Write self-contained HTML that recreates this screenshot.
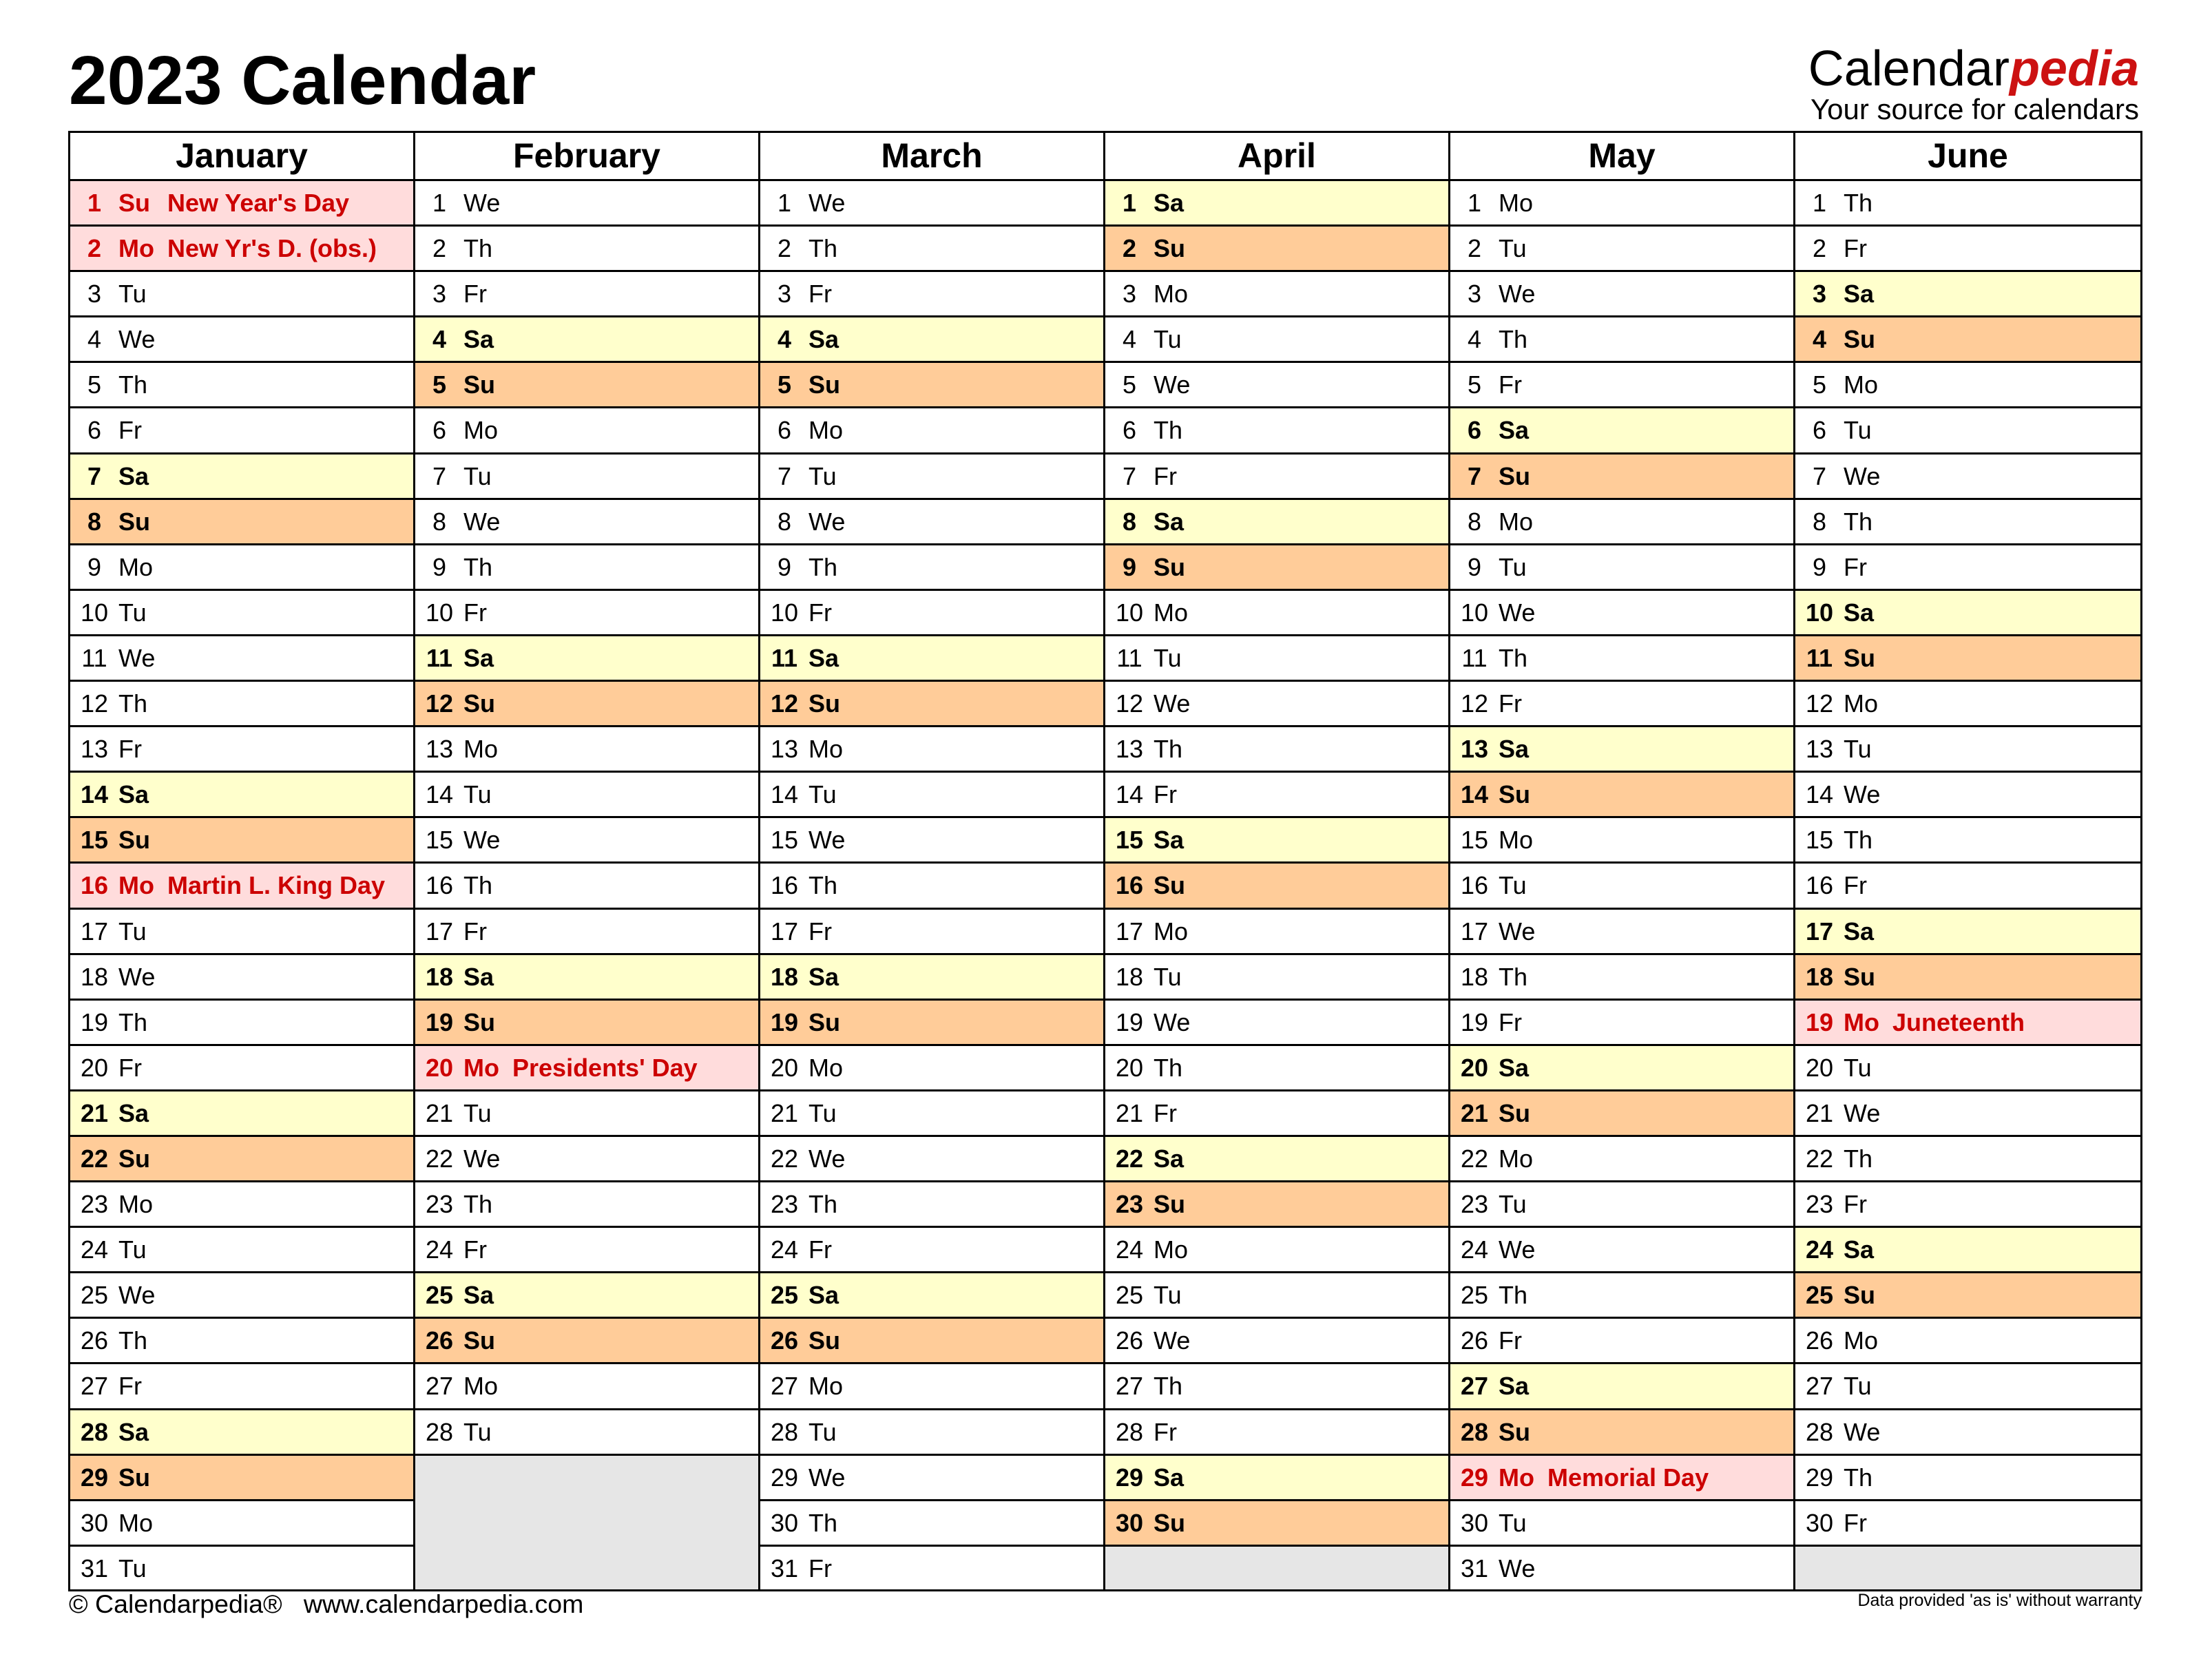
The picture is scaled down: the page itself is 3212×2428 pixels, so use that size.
<!DOCTYPE html>
<html><head><meta charset="utf-8"><style>
*{margin:0;padding:0}
body{width:3212px;height:2428px;background:#fff;position:relative;overflow:hidden;font-family:"Liberation Sans",Arial,sans-serif;color:#000}
.t{position:absolute;left:100px;top:67px;font-size:100px;font-weight:bold;line-height:1;white-space:nowrap}
.logo{position:absolute;right:106px;top:64px;font-size:72px;line-height:1;white-space:nowrap}
.logo b{color:#cc1111;font-style:italic}
.sub{position:absolute;right:106px;top:138px;font-size:42px;line-height:1;white-space:nowrap}
.tb{position:absolute;left:99px;top:190px;width:3012px;height:2121px;border:3px solid #000;box-sizing:border-box}
.col{position:absolute;top:0;width:501px;height:2115px;border-right:3px solid #000;box-sizing:border-box;overflow:hidden}
.col.last{border-right:none}
.hd{height:67px;border-bottom:3px solid #000;font-size:50px;font-weight:bold;text-align:center;line-height:67px}
.col div.r{position:relative;height:66.1px;border-bottom:3px solid #000;box-sizing:border-box;font-size:36px;line-height:64px;white-space:nowrap}
.r span{position:absolute;top:0}
.r .n{left:0;width:70px;text-align:center}
.r .d{left:70px}
.r .h{left:141px}
.r.s{background:#ffffcc;font-weight:bold}
.r.u{background:#ffcc99;font-weight:bold}
.r.h{background:#ffdcdc;font-weight:bold;color:#cc0000}
.g{background:#e6e6e6;height:300px}
.f1{position:absolute;left:100px;top:2311px;font-size:37.5px;line-height:1;white-space:pre}
.f2{position:absolute;right:102px;top:2312px;font-size:25px;line-height:1;white-space:nowrap}
</style></head><body>
<div class="t">2023 Calendar</div>
<div class="logo">Calendar<b>pedia</b></div>
<div class="sub">Your source for calendars</div>
<div class="tb">
<div class="col" style="left:0">
<div class="hd">January</div>
<div class="r h"><span class="n">1</span><span class="d">Su</span><span class="h">New Year's Day</span></div>
<div class="r h"><span class="n">2</span><span class="d">Mo</span><span class="h">New Yr's D. (obs.)</span></div>
<div class="r"><span class="n">3</span><span class="d">Tu</span></div>
<div class="r"><span class="n">4</span><span class="d">We</span></div>
<div class="r"><span class="n">5</span><span class="d">Th</span></div>
<div class="r"><span class="n">6</span><span class="d">Fr</span></div>
<div class="r s"><span class="n">7</span><span class="d">Sa</span></div>
<div class="r u"><span class="n">8</span><span class="d">Su</span></div>
<div class="r"><span class="n">9</span><span class="d">Mo</span></div>
<div class="r"><span class="n">10</span><span class="d">Tu</span></div>
<div class="r"><span class="n">11</span><span class="d">We</span></div>
<div class="r"><span class="n">12</span><span class="d">Th</span></div>
<div class="r"><span class="n">13</span><span class="d">Fr</span></div>
<div class="r s"><span class="n">14</span><span class="d">Sa</span></div>
<div class="r u"><span class="n">15</span><span class="d">Su</span></div>
<div class="r h"><span class="n">16</span><span class="d">Mo</span><span class="h">Martin L. King Day</span></div>
<div class="r"><span class="n">17</span><span class="d">Tu</span></div>
<div class="r"><span class="n">18</span><span class="d">We</span></div>
<div class="r"><span class="n">19</span><span class="d">Th</span></div>
<div class="r"><span class="n">20</span><span class="d">Fr</span></div>
<div class="r s"><span class="n">21</span><span class="d">Sa</span></div>
<div class="r u"><span class="n">22</span><span class="d">Su</span></div>
<div class="r"><span class="n">23</span><span class="d">Mo</span></div>
<div class="r"><span class="n">24</span><span class="d">Tu</span></div>
<div class="r"><span class="n">25</span><span class="d">We</span></div>
<div class="r"><span class="n">26</span><span class="d">Th</span></div>
<div class="r"><span class="n">27</span><span class="d">Fr</span></div>
<div class="r s"><span class="n">28</span><span class="d">Sa</span></div>
<div class="r u"><span class="n">29</span><span class="d">Su</span></div>
<div class="r"><span class="n">30</span><span class="d">Mo</span></div>
<div class="r" style="border-bottom:none"><span class="n">31</span><span class="d">Tu</span></div>
</div>
<div class="col" style="left:501px">
<div class="hd">February</div>
<div class="r"><span class="n">1</span><span class="d">We</span></div>
<div class="r"><span class="n">2</span><span class="d">Th</span></div>
<div class="r"><span class="n">3</span><span class="d">Fr</span></div>
<div class="r s"><span class="n">4</span><span class="d">Sa</span></div>
<div class="r u"><span class="n">5</span><span class="d">Su</span></div>
<div class="r"><span class="n">6</span><span class="d">Mo</span></div>
<div class="r"><span class="n">7</span><span class="d">Tu</span></div>
<div class="r"><span class="n">8</span><span class="d">We</span></div>
<div class="r"><span class="n">9</span><span class="d">Th</span></div>
<div class="r"><span class="n">10</span><span class="d">Fr</span></div>
<div class="r s"><span class="n">11</span><span class="d">Sa</span></div>
<div class="r u"><span class="n">12</span><span class="d">Su</span></div>
<div class="r"><span class="n">13</span><span class="d">Mo</span></div>
<div class="r"><span class="n">14</span><span class="d">Tu</span></div>
<div class="r"><span class="n">15</span><span class="d">We</span></div>
<div class="r"><span class="n">16</span><span class="d">Th</span></div>
<div class="r"><span class="n">17</span><span class="d">Fr</span></div>
<div class="r s"><span class="n">18</span><span class="d">Sa</span></div>
<div class="r u"><span class="n">19</span><span class="d">Su</span></div>
<div class="r h"><span class="n">20</span><span class="d">Mo</span><span class="h">Presidents' Day</span></div>
<div class="r"><span class="n">21</span><span class="d">Tu</span></div>
<div class="r"><span class="n">22</span><span class="d">We</span></div>
<div class="r"><span class="n">23</span><span class="d">Th</span></div>
<div class="r"><span class="n">24</span><span class="d">Fr</span></div>
<div class="r s"><span class="n">25</span><span class="d">Sa</span></div>
<div class="r u"><span class="n">26</span><span class="d">Su</span></div>
<div class="r"><span class="n">27</span><span class="d">Mo</span></div>
<div class="r"><span class="n">28</span><span class="d">Tu</span></div>
<div class="g"></div>
</div>
<div class="col" style="left:1002px">
<div class="hd">March</div>
<div class="r"><span class="n">1</span><span class="d">We</span></div>
<div class="r"><span class="n">2</span><span class="d">Th</span></div>
<div class="r"><span class="n">3</span><span class="d">Fr</span></div>
<div class="r s"><span class="n">4</span><span class="d">Sa</span></div>
<div class="r u"><span class="n">5</span><span class="d">Su</span></div>
<div class="r"><span class="n">6</span><span class="d">Mo</span></div>
<div class="r"><span class="n">7</span><span class="d">Tu</span></div>
<div class="r"><span class="n">8</span><span class="d">We</span></div>
<div class="r"><span class="n">9</span><span class="d">Th</span></div>
<div class="r"><span class="n">10</span><span class="d">Fr</span></div>
<div class="r s"><span class="n">11</span><span class="d">Sa</span></div>
<div class="r u"><span class="n">12</span><span class="d">Su</span></div>
<div class="r"><span class="n">13</span><span class="d">Mo</span></div>
<div class="r"><span class="n">14</span><span class="d">Tu</span></div>
<div class="r"><span class="n">15</span><span class="d">We</span></div>
<div class="r"><span class="n">16</span><span class="d">Th</span></div>
<div class="r"><span class="n">17</span><span class="d">Fr</span></div>
<div class="r s"><span class="n">18</span><span class="d">Sa</span></div>
<div class="r u"><span class="n">19</span><span class="d">Su</span></div>
<div class="r"><span class="n">20</span><span class="d">Mo</span></div>
<div class="r"><span class="n">21</span><span class="d">Tu</span></div>
<div class="r"><span class="n">22</span><span class="d">We</span></div>
<div class="r"><span class="n">23</span><span class="d">Th</span></div>
<div class="r"><span class="n">24</span><span class="d">Fr</span></div>
<div class="r s"><span class="n">25</span><span class="d">Sa</span></div>
<div class="r u"><span class="n">26</span><span class="d">Su</span></div>
<div class="r"><span class="n">27</span><span class="d">Mo</span></div>
<div class="r"><span class="n">28</span><span class="d">Tu</span></div>
<div class="r"><span class="n">29</span><span class="d">We</span></div>
<div class="r"><span class="n">30</span><span class="d">Th</span></div>
<div class="r" style="border-bottom:none"><span class="n">31</span><span class="d">Fr</span></div>
</div>
<div class="col" style="left:1503px">
<div class="hd">April</div>
<div class="r s"><span class="n">1</span><span class="d">Sa</span></div>
<div class="r u"><span class="n">2</span><span class="d">Su</span></div>
<div class="r"><span class="n">3</span><span class="d">Mo</span></div>
<div class="r"><span class="n">4</span><span class="d">Tu</span></div>
<div class="r"><span class="n">5</span><span class="d">We</span></div>
<div class="r"><span class="n">6</span><span class="d">Th</span></div>
<div class="r"><span class="n">7</span><span class="d">Fr</span></div>
<div class="r s"><span class="n">8</span><span class="d">Sa</span></div>
<div class="r u"><span class="n">9</span><span class="d">Su</span></div>
<div class="r"><span class="n">10</span><span class="d">Mo</span></div>
<div class="r"><span class="n">11</span><span class="d">Tu</span></div>
<div class="r"><span class="n">12</span><span class="d">We</span></div>
<div class="r"><span class="n">13</span><span class="d">Th</span></div>
<div class="r"><span class="n">14</span><span class="d">Fr</span></div>
<div class="r s"><span class="n">15</span><span class="d">Sa</span></div>
<div class="r u"><span class="n">16</span><span class="d">Su</span></div>
<div class="r"><span class="n">17</span><span class="d">Mo</span></div>
<div class="r"><span class="n">18</span><span class="d">Tu</span></div>
<div class="r"><span class="n">19</span><span class="d">We</span></div>
<div class="r"><span class="n">20</span><span class="d">Th</span></div>
<div class="r"><span class="n">21</span><span class="d">Fr</span></div>
<div class="r s"><span class="n">22</span><span class="d">Sa</span></div>
<div class="r u"><span class="n">23</span><span class="d">Su</span></div>
<div class="r"><span class="n">24</span><span class="d">Mo</span></div>
<div class="r"><span class="n">25</span><span class="d">Tu</span></div>
<div class="r"><span class="n">26</span><span class="d">We</span></div>
<div class="r"><span class="n">27</span><span class="d">Th</span></div>
<div class="r"><span class="n">28</span><span class="d">Fr</span></div>
<div class="r s"><span class="n">29</span><span class="d">Sa</span></div>
<div class="r u"><span class="n">30</span><span class="d">Su</span></div>
<div class="g"></div>
</div>
<div class="col" style="left:2004px">
<div class="hd">May</div>
<div class="r"><span class="n">1</span><span class="d">Mo</span></div>
<div class="r"><span class="n">2</span><span class="d">Tu</span></div>
<div class="r"><span class="n">3</span><span class="d">We</span></div>
<div class="r"><span class="n">4</span><span class="d">Th</span></div>
<div class="r"><span class="n">5</span><span class="d">Fr</span></div>
<div class="r s"><span class="n">6</span><span class="d">Sa</span></div>
<div class="r u"><span class="n">7</span><span class="d">Su</span></div>
<div class="r"><span class="n">8</span><span class="d">Mo</span></div>
<div class="r"><span class="n">9</span><span class="d">Tu</span></div>
<div class="r"><span class="n">10</span><span class="d">We</span></div>
<div class="r"><span class="n">11</span><span class="d">Th</span></div>
<div class="r"><span class="n">12</span><span class="d">Fr</span></div>
<div class="r s"><span class="n">13</span><span class="d">Sa</span></div>
<div class="r u"><span class="n">14</span><span class="d">Su</span></div>
<div class="r"><span class="n">15</span><span class="d">Mo</span></div>
<div class="r"><span class="n">16</span><span class="d">Tu</span></div>
<div class="r"><span class="n">17</span><span class="d">We</span></div>
<div class="r"><span class="n">18</span><span class="d">Th</span></div>
<div class="r"><span class="n">19</span><span class="d">Fr</span></div>
<div class="r s"><span class="n">20</span><span class="d">Sa</span></div>
<div class="r u"><span class="n">21</span><span class="d">Su</span></div>
<div class="r"><span class="n">22</span><span class="d">Mo</span></div>
<div class="r"><span class="n">23</span><span class="d">Tu</span></div>
<div class="r"><span class="n">24</span><span class="d">We</span></div>
<div class="r"><span class="n">25</span><span class="d">Th</span></div>
<div class="r"><span class="n">26</span><span class="d">Fr</span></div>
<div class="r s"><span class="n">27</span><span class="d">Sa</span></div>
<div class="r u"><span class="n">28</span><span class="d">Su</span></div>
<div class="r h"><span class="n">29</span><span class="d">Mo</span><span class="h">Memorial Day</span></div>
<div class="r"><span class="n">30</span><span class="d">Tu</span></div>
<div class="r" style="border-bottom:none"><span class="n">31</span><span class="d">We</span></div>
</div>
<div class="col last" style="left:2505px">
<div class="hd">June</div>
<div class="r"><span class="n">1</span><span class="d">Th</span></div>
<div class="r"><span class="n">2</span><span class="d">Fr</span></div>
<div class="r s"><span class="n">3</span><span class="d">Sa</span></div>
<div class="r u"><span class="n">4</span><span class="d">Su</span></div>
<div class="r"><span class="n">5</span><span class="d">Mo</span></div>
<div class="r"><span class="n">6</span><span class="d">Tu</span></div>
<div class="r"><span class="n">7</span><span class="d">We</span></div>
<div class="r"><span class="n">8</span><span class="d">Th</span></div>
<div class="r"><span class="n">9</span><span class="d">Fr</span></div>
<div class="r s"><span class="n">10</span><span class="d">Sa</span></div>
<div class="r u"><span class="n">11</span><span class="d">Su</span></div>
<div class="r"><span class="n">12</span><span class="d">Mo</span></div>
<div class="r"><span class="n">13</span><span class="d">Tu</span></div>
<div class="r"><span class="n">14</span><span class="d">We</span></div>
<div class="r"><span class="n">15</span><span class="d">Th</span></div>
<div class="r"><span class="n">16</span><span class="d">Fr</span></div>
<div class="r s"><span class="n">17</span><span class="d">Sa</span></div>
<div class="r u"><span class="n">18</span><span class="d">Su</span></div>
<div class="r h"><span class="n">19</span><span class="d">Mo</span><span class="h">Juneteenth</span></div>
<div class="r"><span class="n">20</span><span class="d">Tu</span></div>
<div class="r"><span class="n">21</span><span class="d">We</span></div>
<div class="r"><span class="n">22</span><span class="d">Th</span></div>
<div class="r"><span class="n">23</span><span class="d">Fr</span></div>
<div class="r s"><span class="n">24</span><span class="d">Sa</span></div>
<div class="r u"><span class="n">25</span><span class="d">Su</span></div>
<div class="r"><span class="n">26</span><span class="d">Mo</span></div>
<div class="r"><span class="n">27</span><span class="d">Tu</span></div>
<div class="r"><span class="n">28</span><span class="d">We</span></div>
<div class="r"><span class="n">29</span><span class="d">Th</span></div>
<div class="r"><span class="n">30</span><span class="d">Fr</span></div>
<div class="g"></div>
</div>
</div>
<div class="f1">© Calendarpedia®   www.calendarpedia.com</div>
<div class="f2">Data provided 'as is' without warranty</div>
</body></html>
